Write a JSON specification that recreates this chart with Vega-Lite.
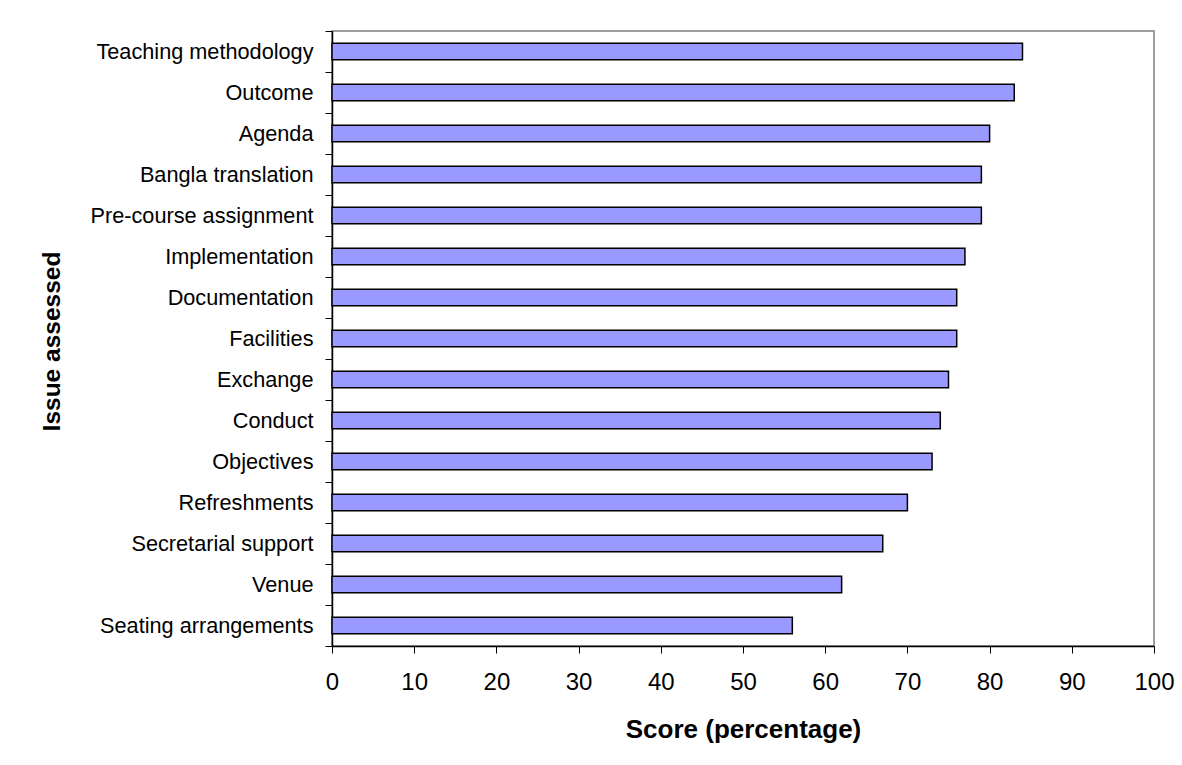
{
  "$schema": "https://vega.github.io/schema/vega-lite/v6.json",
  "width": 822,
  "height": 615,
  "autosize": {"type": "none"},
  "padding": {"left": 332, "top": 31, "right": 28, "bottom": 119},
  "background": "white",
  "config": {
    "font": "Liberation Sans",
    "view": {"stroke": "#808080", "strokeWidth": 1.5},
    "axis": {"domainColor": "black", "tickColor": "black", "labelColor": "black", "titleColor": "black", "grid": false, "domainWidth": 1.5, "tickWidth": 1}
  },
  "data": {
    "values": [
      {"issue": "Teaching methodology", "score": 84},
      {"issue": "Outcome", "score": 83},
      {"issue": "Agenda", "score": 80},
      {"issue": "Bangla translation", "score": 79},
      {"issue": "Pre-course assignment", "score": 79},
      {"issue": "Implementation", "score": 77},
      {"issue": "Documentation", "score": 76},
      {"issue": "Facilities", "score": 76},
      {"issue": "Exchange", "score": 75},
      {"issue": "Conduct", "score": 74},
      {"issue": "Objectives", "score": 73},
      {"issue": "Refreshments", "score": 70},
      {"issue": "Secretarial support", "score": 67},
      {"issue": "Venue", "score": 62},
      {"issue": "Seating arrangements", "score": 56}
    ]
  },
  "mark": {"type": "bar", "fill": "#9999FF", "stroke": "black", "strokeWidth": 1.5, "height": {"band": 0.4}},
  "encoding": {
    "y": {
      "field": "issue",
      "type": "nominal",
      "sort": null,
      "scale": {"paddingInner": 0, "paddingOuter": 0},
      "axis": {
        "title": "Issue assessed",
        "titleFontSize": 24.5,
        "titleFontWeight": "bold",
        "titleX": -280,
        "titleY": 310,
        "titleAngle": -90,
        "titleAlign": "center",
        "titleBaseline": "middle",
        "labelFontSize": 21.7,
        "labelPadding": 12,
        "tickSize": 7,
        "tickBand": "extent",
        "labelLimit": 400
      }
    },
    "x": {
      "field": "score",
      "type": "quantitative",
      "scale": {"domain": [0, 100], "nice": false},
      "axis": {
        "title": "Score (percentage)",
        "titleFontSize": 26,
        "titleFontWeight": "bold",
        "titleBaseline": "alphabetic",
        "titleY": 91,
        "values": [0, 10, 20, 30, 40, 50, 60, 70, 80, 90, 100],
        "labelFontSize": 24,
        "labelPadding": 17,
        "tickSize": 7,
        "labelFlush": false
      }
    }
  }
}
